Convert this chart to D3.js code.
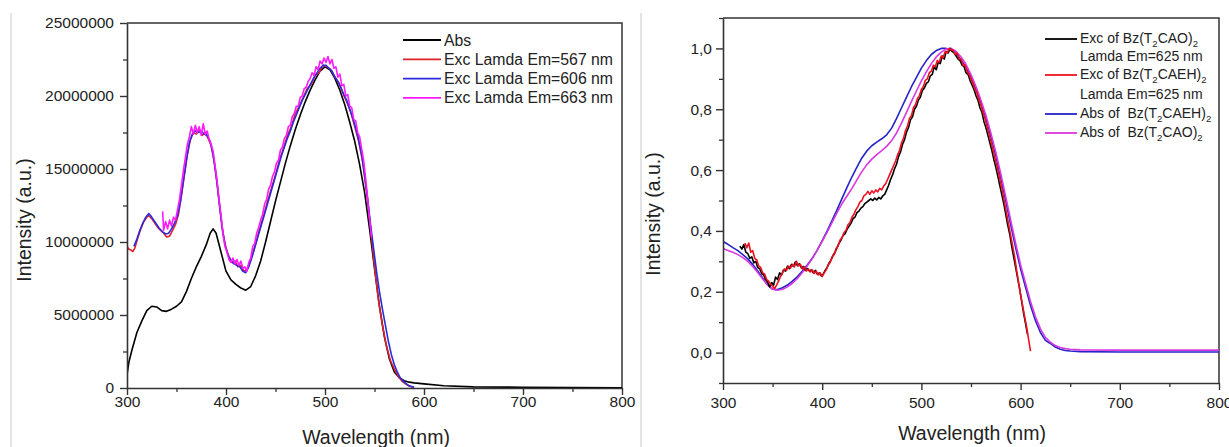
<!DOCTYPE html>
<html><head><meta charset="utf-8">
<script src="https://cdn.jsdelivr.net/npm/d3@7"></script>
<style>
html,body{margin:0;padding:0;background:#fff;}
svg{display:block;font-family:"Liberation Sans",Arial,sans-serif;}
</style></head>
<body>
<svg id="c" width="1229" height="447"></svg>
<script>
// ---------------- LEFT PANEL DATA ----------------
const absLWl = [300,302,305,310,315,320,325,330,335,340,345,350,355,360,365,370,375,380,384,387,390,395,400,405,410,415,420,425,430,435,440,445,450,455,460,465,470,475,480,485,490,495,500,505,510,515,520,525,530,535,540,545,550,555,560,565,570,575,580,585,590,600,620,650,700,750,800];
const absLVal = [0.9e6,1.8e6,2.6e6,3.8e6,4.6e6,5.3e6,5.6e6,5.55e6,5.3e6,5.25e6,5.4e6,5.6e6,5.9e6,6.6e6,7.5e6,8.3e6,9.0e6,9.8e6,10.6e6,10.9e6,10.6e6,9.3e6,8.0e6,7.4e6,7.1e6,6.85e6,6.7e6,6.95e6,7.7e6,8.7e6,10.0e6,11.4e6,12.8e6,14.1e6,15.4e6,16.6e6,17.7e6,18.7e6,19.6e6,20.4e6,21.1e6,21.7e6,22.0e6,21.8e6,21.2e6,20.4e6,19.4e6,18.2e6,16.9e6,15.3e6,13.4e6,10.9e6,8.2e6,5.6e6,3.5e6,2.0e6,1.1e6,0.7e6,0.5e6,0.4e6,0.35e6,0.28e6,0.15e6,0.08e6,0.05e6,0.03e6,0.02e6];

const exc567Wl = [300,302,304,306,308,311,314,317,320,322,325,328,331,334,337,340,343,346,349,352,355,358,361,364,367,370,373,376,379,382,385,388,391,394,397,400,403,406,409,412,415,418,421,424,427,430,434,438,442,446,450,454,458,462,466,470,474,478,482,486,490,494,498,502,506,510,514,518,522,526,530,534,538,542,546,550,554,558,562,566,570,574,578,582,586,590];
const exc567Val = [9.7e6,9.5e6,9.45e6,9.35e6,9.6e6,10.3e6,10.9e6,11.4e6,11.7e6,11.8e6,11.6e6,11.3e6,11.0e6,10.8e6,10.6e6,10.35e6,10.4e6,10.8e6,11.2e6,11.9e6,13.2e6,14.6e6,16.0e6,17.0e6,17.5e6,17.4e6,17.7e6,17.3e6,17.5e6,17.1e6,16.6e6,15.5e6,14.0e6,12.2e6,10.6e6,9.6e6,9.0e6,8.6e6,8.7e6,8.3e6,8.4e6,8.0e6,8.1e6,8.6e6,9.2e6,9.9e6,10.9e6,11.8e6,12.8e6,13.7e6,14.6e6,15.6e6,16.4e6,17.3e6,17.9e6,18.8e6,19.3e6,19.9e6,20.5e6,20.8e6,21.4e6,21.6e6,22.1e6,22.0e6,21.8e6,21.3e6,20.9e6,20.2e6,19.6e6,18.9e6,17.9e6,16.9e6,15.5e6,13.4e6,11.0e6,8.3e6,6.0e6,4.3e6,2.9e6,1.9e6,1.3e6,0.8e6,0.45e6,0.25e6,0.1e6,0.04e6];

const exc606Wl = [307,310,313,316,319,322,324,327,330,333,336,339,342,345,348,351,354,357,360,363,366,369,372,375,378,381,384,387,390,393,396,399,402,405,408,411,414,417,420,423,426,429,432,435,438,441,444,447,450,453,456,459,462,465,468,471,474,477,480,483,486,489,492,495,498,501,504,507,510,513,516,519,522,525,528,531,534,537,540,543,546,549,552,555,558,561,564,567,570,573,576,580,585,590];
const exc606Val = [9.7e6,10.2e6,10.8e6,11.3e6,11.7e6,11.95e6,11.8e6,11.5e6,11.2e6,10.9e6,10.7e6,10.55e6,10.6e6,10.9e6,11.3e6,11.8e6,12.8e6,14.2e6,15.6e6,16.8e6,17.4e6,17.6e6,17.5e6,17.6e6,17.4e6,17.3e6,16.9e6,16.0e6,14.6e6,12.8e6,11.0e6,9.8e6,9.1e6,8.7e6,8.5e6,8.4e6,8.3e6,8.0e6,7.9e6,8.3e6,8.9e6,9.6e6,10.3e6,11.0e6,11.7e6,12.4e6,13.1e6,13.8e6,14.5e6,15.2e6,15.9e6,16.5e6,17.1e6,17.6e6,18.2e6,18.7e6,19.2e6,19.7e6,20.1e6,20.5e6,20.9e6,21.3e6,21.6e6,21.9e6,22.1e6,22.1e6,21.9e6,21.7e6,21.3e6,21.0e6,20.6e6,20.1e6,19.7e6,19.1e6,18.5e6,17.8e6,17.0e6,16.0e6,14.6e6,13.0e6,11.2e6,9.6e6,8.0e6,6.6e6,5.4e6,4.3e6,3.2e6,2.3e6,1.6e6,1.1e6,0.7e6,0.4e6,0.15e6,0.05e6];

const exc663Wl = [336,337,339,341,343,345,347,349,351,353,355,357,359,361,363,365,367,369,371,373,375,377,379,381,383,385,387,389,391,393,395,397,399,401,403,405,407,409,411,413,415,417,419,421,423,425,427,429,431,433,435,437,439,441,443,445,447,449,451,453,455,457,459,461,463,465,467,469,471,473,475,477,479,481,483,485,487,489,491,493,495,497,499,501,503,505,507,509,511,513,515,517,519,521,523,525,527,529,531,533,535,537,539,541,543,545,547];
const exc663Val = [12.1e6,10.8e6,11.4e6,10.9e6,11.5e6,11.1e6,11.7e6,11.5e6,12.2e6,12.9e6,13.9e6,14.9e6,15.8e6,16.7e6,17.2e6,17.9e6,17.4e6,18.0e6,17.5e6,17.9e6,17.3e6,18.1e6,17.4e6,17.6e6,17.0e6,16.7e6,16.2e6,15.2e6,14.2e6,12.9e6,11.8e6,10.5e6,9.7e6,9.3e6,8.8e6,8.6e6,8.9e6,8.5e6,8.8e6,8.4e6,8.7e6,8.2e6,8.3e6,8.0e6,8.6e6,8.9e6,9.7e6,9.9e6,10.6e6,11.0e6,11.5e6,11.9e6,12.6e6,12.9e6,13.6e6,13.9e6,14.5e6,14.8e6,15.4e6,15.6e6,16.3e6,16.5e6,17.1e6,17.3e6,17.9e6,18.0e6,18.6e6,18.8e6,19.3e6,19.3e6,19.9e6,20.0e6,20.5e6,20.6e6,21.0e6,21.2e6,21.6e6,21.4e6,22.0e6,21.8e6,22.4e6,22.2e6,22.6e6,22.3e6,22.7e6,22.2e6,22.5e6,21.9e6,22.0e6,21.3e6,21.5e6,20.7e6,20.8e6,20.0e6,20.1e6,19.3e6,19.2e6,18.4e6,18.3e6,17.5e6,17.2e6,16.4e6,15.6e6,14.4e6,13.0e6,11.6e6,10.3e6];

const leftLegend = ["Abs","Exc Lamda Em=567 nm","Exc Lamda Em=606 nm","Exc Lamda Em=663 nm"];
const leftColors = ["#000000","#e0202a","#2b2bdd","#ff1aff"];
const xTicks = [300,400,500,600,700,800];
const yTicksL = [0,5000000,10000000,15000000,20000000,25000000];

// ---------------- RIGHT PANEL DATA ----------------
const absEHWl = [300,305,310,315,320,325,330,335,340,345,350,355,360,365,370,375,380,385,390,395,400,405,410,415,420,425,430,435,440,445,450,455,460,465,470,475,480,485,490,495,500,505,510,515,520,525,530,535,540,545,550,555,560,565,570,575,580,585,590,595,600,605,610,615,620,625,630,635,640,645,650,660,700,750,800];
const absEHVal = [0.365,0.356,0.345,0.335,0.322,0.308,0.29,0.268,0.245,0.223,0.208,0.207,0.213,0.222,0.235,0.25,0.268,0.288,0.31,0.337,0.368,0.4,0.435,0.47,0.507,0.543,0.578,0.61,0.64,0.663,0.68,0.692,0.703,0.716,0.738,0.77,0.805,0.84,0.874,0.905,0.935,0.96,0.98,0.993,1.0,1.0,0.995,0.983,0.963,0.937,0.905,0.865,0.82,0.77,0.712,0.648,0.575,0.5,0.42,0.345,0.275,0.215,0.155,0.105,0.066,0.04,0.03,0.018,0.011,0.007,0.005,0.003,0.002,0.002,0.002];

const absAOWl = [300,305,310,315,320,325,330,335,340,345,350,355,360,365,370,375,380,385,390,395,400,405,410,415,420,425,430,435,440,445,450,455,460,465,470,475,480,485,490,495,500,505,510,515,520,525,530,535,540,545,550,555,560,565,570,575,580,585,590,595,600,605,610,615,620,625,630,635,640,645,650,660,700,750,800];
const absAOVal = [0.342,0.336,0.33,0.322,0.312,0.3,0.283,0.263,0.242,0.222,0.209,0.205,0.208,0.216,0.228,0.244,0.263,0.285,0.31,0.337,0.366,0.396,0.428,0.46,0.49,0.515,0.54,0.568,0.595,0.618,0.636,0.651,0.664,0.678,0.697,0.722,0.755,0.79,0.826,0.86,0.893,0.923,0.95,0.972,0.988,0.998,1.0,0.99,0.972,0.947,0.914,0.875,0.83,0.78,0.722,0.659,0.588,0.513,0.435,0.36,0.288,0.228,0.168,0.118,0.078,0.05,0.034,0.023,0.017,0.013,0.011,0.009,0.008,0.008,0.008];

const excAOWl = [317,319,321,323,325,327,329,331,333,335,337,339,341,343,345,347,349,351,353,355,357,359,361,363,365,367,369,371,373,375,377,379,381,383,385,387,389,391,393,395,397,399,401,403,405,407,409,411,413,415,417,419,421,423,425,427,429,431,433,435,437,439,441,443,445,447,449,451,453,455,457,459,461,463,465,467,469,471,473,475,477,479,481,483,485,487,489,491,493,495,497,499,501,503,505,507,509,511,513,515,517,519,521,523,525,527,529,531,533,535,537,539,541,543,545,547,549,551,553,555,557,559,561,563,565,567,569,571,573,575,577,579,581,583,585,587,589,591,593,595,597,599,601,603,605,607];
const excAOVal = [0.35,0.34,0.355,0.33,0.325,0.31,0.315,0.295,0.3,0.28,0.275,0.26,0.255,0.24,0.232,0.216,0.23,0.222,0.248,0.24,0.262,0.255,0.272,0.268,0.284,0.276,0.29,0.283,0.298,0.286,0.292,0.278,0.283,0.27,0.276,0.268,0.272,0.262,0.27,0.258,0.262,0.252,0.258,0.27,0.28,0.295,0.305,0.32,0.33,0.345,0.36,0.37,0.385,0.39,0.405,0.415,0.425,0.44,0.445,0.46,0.465,0.475,0.48,0.49,0.495,0.5,0.505,0.5,0.508,0.502,0.51,0.505,0.515,0.52,0.535,0.55,0.57,0.585,0.605,0.62,0.645,0.66,0.685,0.7,0.725,0.74,0.765,0.775,0.8,0.81,0.83,0.84,0.862,0.87,0.885,0.89,0.91,0.915,0.94,0.93,0.955,0.95,0.975,0.965,0.99,0.985,1.0,0.99,0.985,0.975,0.965,0.96,0.945,0.94,0.92,0.915,0.895,0.88,0.865,0.845,0.83,0.805,0.79,0.76,0.74,0.715,0.69,0.665,0.635,0.61,0.58,0.55,0.52,0.49,0.455,0.42,0.39,0.35,0.315,0.28,0.245,0.21,0.17,0.13,0.095,0.06];

const excEHWl = [322,324,326,328,330,332,334,336,338,340,342,344,346,348,350,352,354,356,358,360,362,364,366,368,370,372,374,376,378,380,382,384,386,388,390,392,394,396,398,400,402,404,406,408,410,412,414,416,418,420,422,424,426,428,430,432,434,436,438,440,442,444,446,448,450,452,454,456,458,460,462,464,466,468,470,472,474,476,478,480,482,484,486,488,490,492,494,496,498,500,502,504,506,508,510,512,514,516,518,520,522,524,526,528,530,532,534,536,538,540,542,544,546,548,550,552,554,556,558,560,562,564,566,568,570,572,574,576,578,580,582,584,586,588,590,592,594,596,598,600,602,604,606,608,610];
const excEHVal = [0.36,0.345,0.36,0.33,0.335,0.31,0.305,0.285,0.28,0.262,0.258,0.24,0.235,0.225,0.218,0.21,0.222,0.235,0.25,0.262,0.275,0.27,0.284,0.278,0.29,0.282,0.3,0.285,0.29,0.275,0.282,0.268,0.275,0.265,0.272,0.26,0.268,0.255,0.262,0.25,0.262,0.272,0.288,0.296,0.315,0.322,0.342,0.35,0.37,0.378,0.395,0.402,0.42,0.428,0.445,0.455,0.47,0.48,0.495,0.5,0.515,0.52,0.53,0.52,0.532,0.525,0.535,0.528,0.54,0.535,0.548,0.555,0.57,0.585,0.6,0.615,0.63,0.65,0.665,0.69,0.705,0.73,0.745,0.77,0.78,0.805,0.815,0.835,0.845,0.865,0.875,0.895,0.9,0.92,0.925,0.945,0.94,0.96,0.955,0.975,0.97,0.99,0.985,1.0,0.995,0.995,0.98,0.985,0.965,0.965,0.945,0.945,0.925,0.915,0.9,0.885,0.865,0.855,0.83,0.815,0.79,0.77,0.745,0.72,0.695,0.67,0.64,0.615,0.585,0.555,0.525,0.49,0.455,0.42,0.385,0.35,0.315,0.27,0.23,0.19,0.155,0.12,0.085,0.045,0.005];

const yTicksR = [0,0.2,0.4,0.6,0.8,1.0];
const rightColors = ["#000000","#f01020","#2424c8","#d838e0"];

// ---------------- DRAW ----------------
const svg = d3.select("#c");
const tickColor = "#333";

// panel separator lines
svg.append("line").attr("x1",11).attr("x2",11).attr("y1",13).attr("y2",447).attr("stroke","#c8c8c8").attr("stroke-width",1);
svg.append("line").attr("x1",641).attr("x2",641).attr("y1",13).attr("y2",447).attr("stroke","#c8c8c8").attr("stroke-width",1);

function zip(w,v){return w.map((d,i)=>[d,v[i]]);}

function panel(o){
  const g = svg.append("g");
  const x = d3.scaleLinear().domain([300,800]).range([o.x0,o.x1]);
  const y = d3.scaleLinear().domain(o.yDom).range([o.y0,o.y1]);
  g.append("path").attr("d",`M${o.x0},${o.y1}H${o.x1}V${o.y0}`).attr("fill","none").attr("stroke",tickColor).attr("stroke-width",1.5);
  const cid = "clip"+o.id;
  svg.append("clipPath").attr("id",cid).append("rect").attr("x",o.x0).attr("y",o.y1).attr("width",o.x1-o.x0).attr("height",o.y0-o.y1);
  const line = d3.line().x(d=>x(d[0])).y(d=>y(d[1]));
  const lg = g.append("g").attr("clip-path",`url(#${cid})`);
  o.series.forEach(s=>{
    lg.append("path").datum(zip(s.w,s.v)).attr("d",line).attr("fill","none").attr("stroke",s.c).attr("stroke-width",s.sw||1.6).attr("stroke-linejoin","round");
  });
  g.append("g").attr("transform",`translate(0,${o.y0})`).call(d3.axisBottom(x).tickValues(d3.range(350,800,100)).tickSize(4).tickFormat(""))
    .call(a=>a.select(".domain").remove()).call(a=>a.selectAll("line").attr("stroke",tickColor).attr("stroke-width",1.3));
  g.append("g").attr("transform",`translate(${o.x0},0)`).call(d3.axisLeft(y).tickValues(o.yMinor).tickSize(4).tickFormat(""))
    .call(a=>a.select(".domain").remove()).call(a=>a.selectAll("line").attr("stroke",tickColor).attr("stroke-width",1.3));
  const ax = g.append("g").attr("transform",`translate(0,${o.y0})`).call(d3.axisBottom(x).tickValues(xTicks).tickSize(7).tickPadding(o.xPad).tickSizeOuter(0));
  const ay = g.append("g").attr("transform",`translate(${o.x0},0)`).call(d3.axisLeft(y).tickValues(o.yTicks).tickSize(7).tickPadding(o.yPad).tickFormat(o.yFmt).tickSizeOuter(0));
  [ax,ay].forEach(a=>{
    a.select(".domain").attr("stroke",tickColor).attr("stroke-width",1.6);
    a.selectAll(".tick line").attr("stroke",tickColor).attr("stroke-width",1.4);
    a.selectAll("text").attr("font-size",15.5).attr("fill","#222").attr("font-family","Liberation Sans, Arial, sans-serif");
  });
  g.append("text").attr("x",o.xtX).attr("y",o.xtY).attr("text-anchor","middle").attr("font-size",19.5).attr("fill","#222").text("Wavelength (nm)");
  g.append("text").attr("transform",`translate(${o.ytX},${o.ytY}) rotate(-90)`).attr("text-anchor","middle").attr("font-size",19.5).attr("fill","#222").text("Intensity (a.u.)");
  return {x,y,g};
}

panel({id:"L",x0:127,x1:622,y0:388,y1:23,yDom:[0,25000000],
  yTicks:yTicksL,yMinor:d3.range(2500000,25000000,5000000),yFmt:d3.format("d"),xPad:1,yPad:6,
  xtX:376,xtY:444,ytX:31,ytY:220,
  series:[{w:absLWl,v:absLVal,c:leftColors[0]},{w:exc567Wl,v:exc567Val,c:leftColors[1]},{w:exc606Wl,v:exc606Val,c:leftColors[2]},{w:exc663Wl,v:exc663Val,c:leftColors[3]}]});

const commaFmt = d3.formatLocale({decimal:",",thousands:".",grouping:[3],currency:["",""]}).format(".1f");
panel({id:"R",x0:723,x1:1219,y0:383,y1:18,yDom:[-0.1,1.1],
  yTicks:yTicksR,yMinor:[-0.1,0.1,0.3,0.5,0.7,0.9,1.1],yFmt:commaFmt,xPad:7,yPad:4,
  xtX:972,xtY:440,ytX:660,ytY:214,
  series:[{w:absEHWl,v:absEHVal,c:rightColors[2]},{w:absAOWl,v:absAOVal,c:rightColors[3]},{w:excAOWl,v:excAOVal,c:rightColors[0]},{w:excEHWl,v:excEHVal,c:rightColors[1]}]});

// left legend
const ll = svg.append("g");
leftLegend.forEach((t,i)=>{
  const yy = 40 + i*19.3;
  ll.append("line").attr("x1",403).attr("x2",441).attr("y1",yy).attr("y2",yy).attr("stroke",leftColors[i]).attr("stroke-width",1.8);
  ll.append("text").attr("x",444).attr("y",yy+5.5).attr("font-size",15.8).attr("fill","#222").text(t);
});

// right legend (with subscripts)
const rl = svg.append("g").attr("font-size",14).attr("fill","#222");
const rItems = [
  {y:38, line:0, parts:[["Exc of Bz(T"],["2",1],["CAO)"],["2",1]]},
  {y:56, line:-1, parts:[["Lamda Em=625 nm"]]},
  {y:74, line:1, parts:[["Exc of Bz(T"],["2",1],["CAEH)"],["2",1]]},
  {y:94, line:-1, parts:[["Lamda Em=625 nm"]]},
  {y:113, line:2, parts:[["Abs of  Bz(T"],["2",1],["CAEH)"],["2",1]]},
  {y:132, line:3, parts:[["Abs of  Bz(T"],["2",1],["CAO)"],["2",1]]}
];
rItems.forEach(it=>{
  if(it.line>=0) rl.append("line").attr("x1",1045).attr("x2",1077).attr("y1",it.y+1).attr("y2",it.y+1).attr("stroke",rightColors[it.line]).attr("stroke-width",1.8);
  const t = rl.append("text").attr("x",1080).attr("y",it.y+5).style("white-space","pre");
  let sub=false;
  it.parts.forEach(p=>{
    const ts = t.append("tspan").text(p[0]);
    if(p[1] && !sub){ts.attr("dy",4).attr("font-size",9.5); sub=true;}
    else if(p[1] && sub){ts.attr("font-size",9.5);}
    else if(!p[1] && sub){ts.attr("dy",-4); sub=false;}
  });
});
</script>
</body></html>
